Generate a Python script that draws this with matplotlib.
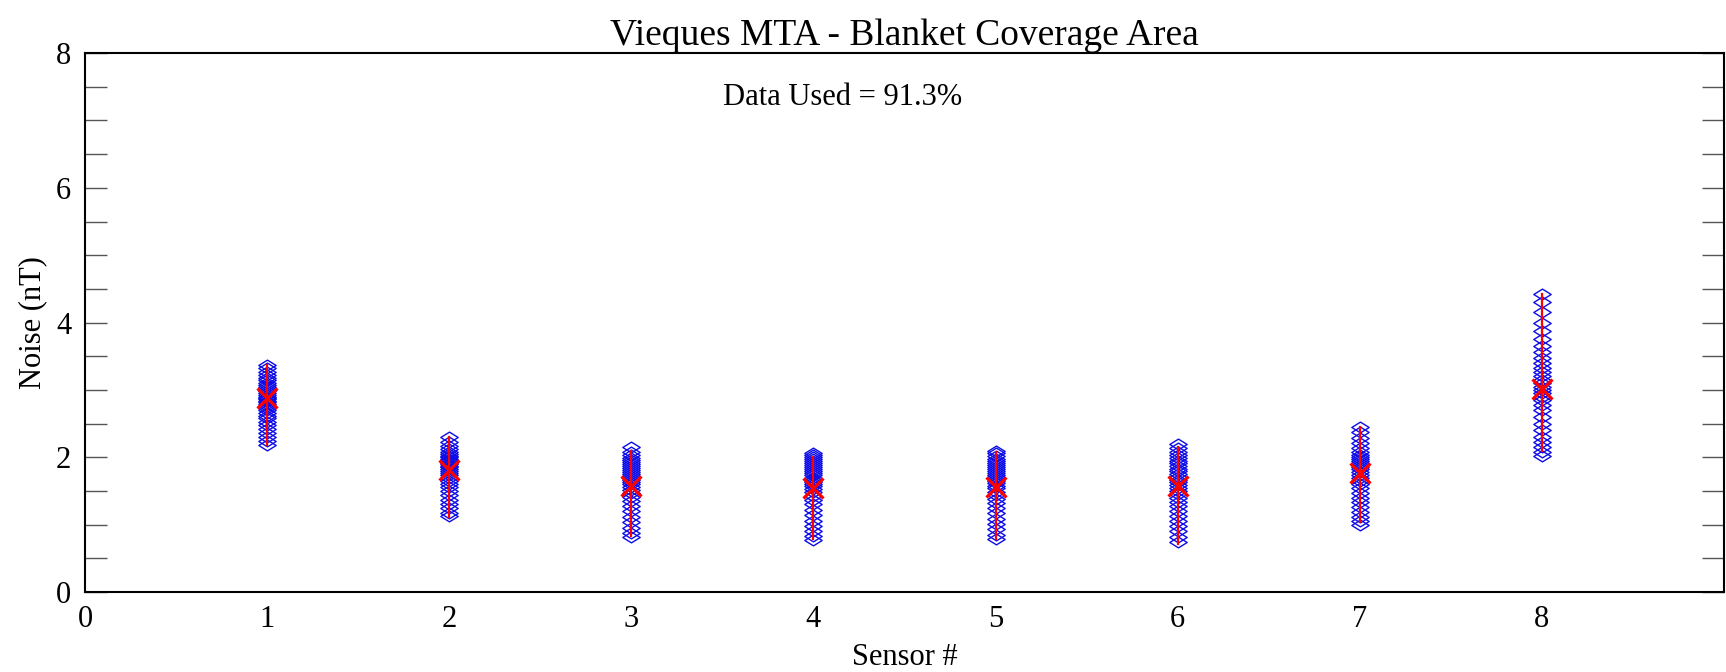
import numpy as np
import matplotlib.pyplot as plt
from matplotlib.path import Path

plt.rcParams['font.family'] = ['Liberation Serif', 'DejaVu Serif']

sensors = [1, 2, 3, 4, 5, 6, 7, 8]

# noise readings per sensor (nT)
s1 = [2.18, 2.24, 2.3, 2.36, 2.42, 2.48, 2.53, 2.58, 2.62, 2.66, 2.7, 2.73, 2.76, 2.79,
      2.82, 2.84, 2.86, 2.88, 2.9, 2.92, 2.95, 2.98, 3.01, 3.04, 3.07, 3.1, 3.14, 3.18,
      3.22, 3.27, 3.32, 3.37]
s2 = [1.13, 1.18, 1.24, 1.3, 1.37, 1.44, 1.5, 1.56, 1.61, 1.65, 1.69, 1.73, 1.76, 1.79,
      1.82, 1.85, 1.87, 1.9, 1.92, 1.94, 1.96, 1.98, 2.0, 2.02, 2.05, 2.08, 2.12, 2.17,
      2.23, 2.3]
s3 = [0.82, 0.88, 0.95, 1.04, 1.12, 1.2, 1.28, 1.35, 1.41, 1.47, 1.52, 1.56, 1.6, 1.63,
      1.66, 1.69, 1.72, 1.75, 1.78, 1.81, 1.84, 1.87, 1.9, 1.93, 1.96, 1.99, 2.03, 2.08,
      2.15]
s4 = [0.77, 0.83, 0.9, 0.98, 1.06, 1.14, 1.22, 1.3, 1.37, 1.43, 1.48, 1.53, 1.57, 1.61,
      1.64, 1.67, 1.7, 1.73, 1.76, 1.79, 1.82, 1.85, 1.88, 1.91, 1.94, 1.97, 2.0, 2.03,
      2.06]
s5 = [0.78, 0.85, 0.93, 1.01, 1.09, 1.17, 1.25, 1.32, 1.38, 1.44, 1.49, 1.54, 1.58, 1.62,
      1.65, 1.68, 1.71, 1.74, 1.77, 1.8, 1.83, 1.86, 1.89, 1.92, 1.95, 1.98, 2.02, 2.06,
      2.1]
s6 = [0.75, 0.82, 0.9, 0.98, 1.06, 1.13, 1.2, 1.27, 1.33, 1.39, 1.45, 1.5, 1.55, 1.59,
      1.63, 1.67, 1.71, 1.75, 1.79, 1.83, 1.87, 1.91, 1.95, 1.99, 2.03, 2.08, 2.14, 2.2]
s7 = [1.0, 1.06, 1.12, 1.19, 1.26, 1.33, 1.4, 1.47, 1.54, 1.6, 1.65, 1.7, 1.74, 1.78,
      1.82, 1.86, 1.89, 1.92, 1.95, 1.98, 2.01, 2.04, 2.08, 2.14, 2.21, 2.29, 2.37, 2.45]
s8 = [2.02, 2.08, 2.15, 2.22, 2.3, 2.4, 2.5, 2.6, 2.7, 2.78, 2.85, 2.9, 2.95, 3.0, 3.05,
      3.1, 3.15, 3.2, 3.26, 3.32, 3.4, 3.48, 3.56, 3.65, 3.75, 3.87, 4.0, 4.15, 4.3, 4.42]
noise = [s1, s2, s3, s4, s5, s6, s7, s8]

mean_noise = [2.88, 1.81, 1.57, 1.55, 1.56, 1.58, 1.76, 3.02]
err_low = [2.18, 1.12, 0.83, 0.78, 0.78, 0.72, 1.04, 2.1]
err_high = [3.37, 2.3, 2.1, 2.0, 2.08, 2.15, 2.45, 4.42]

# flattened diamond like the matlab one
diamond = Path([(-1, 0), (0, 0.62), (1, 0), (0, -0.62), (-1, 0)],
               [Path.MOVETO, Path.LINETO, Path.LINETO, Path.LINETO, Path.CLOSEPOLY])

fig = plt.figure(figsize=(17.26, 6.72), dpi=100)
ax = fig.add_axes([0.0493, 0.119, 0.9495, 0.802])

for x, vals in zip(sensors, noise):
    ax.plot([x] * len(vals), vals, linestyle='none', marker=diamond, markersize=12.5,
            markerfacecolor='none', markeredgecolor='#0c0ce8', markeredgewidth=1.0)

for x, m, lo, hi in zip(sensors, mean_noise, err_low, err_high):
    ax.plot([x, x], [lo, hi], color='red', lw=1.6)
    ax.plot(x, m, marker='x', color='red', markersize=14, markeredgewidth=2.3)

ax.set_xlim(0, 9)
ax.set_ylim(0, 8)
ax.set_xticks(range(0, 9))
ax.set_yticks([0, 2, 4, 6, 8])
ax.set_yticks(np.arange(0, 8.01, 0.5), minor=True)
ax.tick_params(axis='x', length=0, labelsize=22, pad=9)
ax.tick_params(axis='y', which='both', direction='in', length=16, width=1,
               right=True, labelsize=22, pad=10, color='#555555')
for sp in ax.spines.values():
    sp.set_linewidth(1.5)

ax.set_title('Vieques MTA - Blanket Coverage Area', fontsize=27, pad=6)
ax.set_xlabel('Sensor #', fontsize=22, labelpad=7)
ax.set_ylabel('Noise (nT)', fontsize=22, labelpad=6)
ax.text(4.16, 7.34, 'Data Used = 91.3%', ha='center', va='center', fontsize=22)

fig.savefig('out.png', dpi=100)
